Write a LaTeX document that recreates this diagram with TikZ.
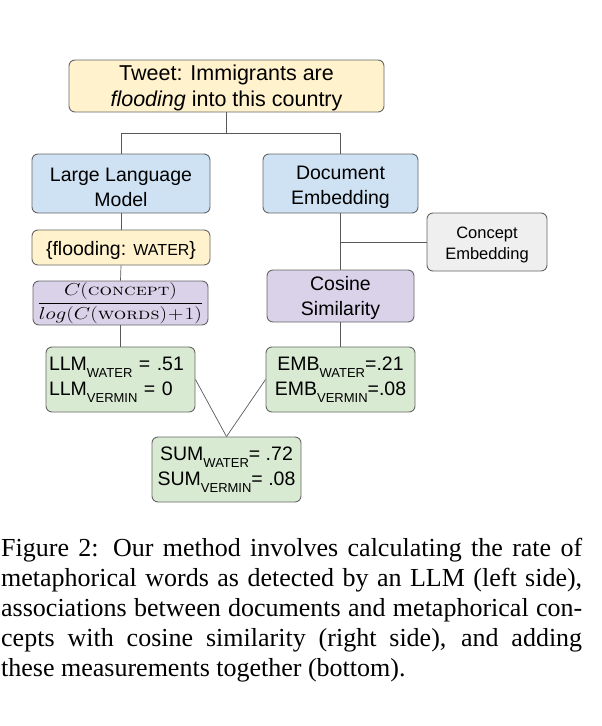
\documentclass[tikz,border=0pt]{standalone}
\usepackage{fontspec}
\usepackage{graphicx}
\newfontfamily\arialf{Liberation Sans}
\newfontfamily\timesf{Liberation Serif}
\definecolor{bordr}{HTML}{666666}
\definecolor{linec}{HTML}{595959}
\definecolor{yell}{HTML}{FFF2CC}
\definecolor{blu}{HTML}{CFE2F3}
\definecolor{purp}{HTML}{D9D2E9}
\definecolor{grn}{HTML}{D9EAD3}
\definecolor{gry}{HTML}{EFEFEF}
\newcommand{\subtag}[1]{\raisebox{-7pt}{\fontsize{13}{13}\selectfont #1}}
\newcommand{\tpad}[1]{\rule{0pt}{#1}}
\tikzset{
  box/.style={draw=bordr, line width=0.9pt, rounded corners=6pt, inner sep=0pt, align=center,
    font=\arialf\fontsize{19.5}{25}\selectfont},
  conn/.style={draw=linec, line width=0.7pt},
}
\begin{document}
\begin{tikzpicture}[x=1pt,y=-1pt]
\useasboundingbox (0,0) rectangle (602,726);
\node[box, fill=yell, minimum width=315, minimum height=52, font=\arialf\fontsize{21.5}{26}\selectfont] (tweet) at (226.5,86)
  {\tpad{18.7pt}Tweet: Immigrants are\\\textit{flooding} into this country};
\node[box, fill=blu, minimum width=178, minimum height=59] (llm) at (121,183.5)
  {\tpad{20.5pt}Large Language\\Model};
\node[box, fill=blu, minimum width=155, minimum height=59] (doc) at (340.5,183.5)
  {\tpad{20.5pt}Document\\Embedding};
\node[box, fill=yell, minimum width=178, minimum height=35] (flood) at (121,247.5)
  {\tpad{20.5pt}\{flooding: {\fontsize{16}{16}\selectfont WATER}\}};
\node[box, fill=purp, minimum width=175, minimum height=44, font=\fontsize{16}{16}\selectfont] (form) at (120.5,303)
  {\scalebox{1.23}[1]{$\displaystyle\frac{C(\textsc{concept})}{log(C(\textsc{words})\!+\!1)}$}};
\node[box, fill=purp, minimum width=147, minimum height=52] (cos) at (340.5,296)
  {\tpad{19pt}Cosine\\Similarity};
\node[box, fill=gry, minimum width=120, minimum height=58, font=\arialf\fontsize{16.5}{21}\selectfont] (concept) at (487,242)
  {\tpad{18pt}Concept\\Embedding};
\node[box, fill=grn, minimum width=149, minimum height=65, text width=143, inner xsep=3pt, align=left] (llmres) at (120.5,379.5)
  {LLM\subtag{WATER} = .51\\LLM\subtag{VERMIN} = 0};
\node[box, fill=grn, minimum width=149, minimum height=65] (embres) at (340.5,379.5)
  {EMB\subtag{WATER}=.21\\EMB\subtag{VERMIN}=.08};
\node[box, fill=grn, minimum width=149, minimum height=65] (sum) at (226.5,469.5)
  {SUM\subtag{WATER}= .72\\SUM\subtag{VERMIN}= .08};
\coordinate (split) at (0,133);
\draw[conn] (tweet.south) -- (tweet.south |- split) -| (llm.north);
\draw[conn] (tweet.south |- split) -| (doc.north);
\draw[conn] (doc.south) -- (cos.north);
\draw[conn] (concept.west) -- (concept.west -| doc.south);
\draw[conn] (llm.south) -- (flood.north);
\draw[conn] (flood.south) -- (form.north);
\draw[conn] (form.south) -- (llmres.north -| form.south);
\draw[conn] (cos.south) -- (embres.north);
\draw[conn] (llmres.east) -- (sum.north);
\draw[conn] (embres.west) -- (sum.north);
\node[anchor=north west, inner sep=0pt, text width=581, align=justify,
  font=\timesf\fontsize{26}{30}\selectfont] (cap) at (1,538)
  {Figure 2: Our method involves calculating the rate of\linebreak
   metaphorical words as detected by an LLM (left side),\linebreak
   associations between documents and metaphorical con-\linebreak
   cepts with cosine similarity (right side), and adding\linebreak
   these measurements together (bottom).};
\end{tikzpicture}
\end{document}
